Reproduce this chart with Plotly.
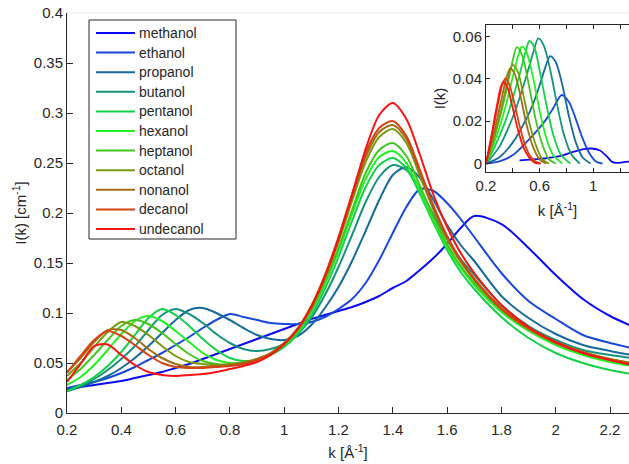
import plotly.graph_objects as go

# Scattering vector grid for the full I(k) curves [1/Angstrom]
k = [0.2, 0.25, 0.3, 0.35, 0.4, 0.45, 0.5, 0.55, 0.6, 0.65, 0.7, 0.75, 0.8, 0.85,
     0.9, 0.95, 1.0, 1.05, 1.1, 1.15, 1.2, 1.25, 1.3, 1.35, 1.4, 1.45, 1.5, 1.55,
     1.6, 1.65, 1.7, 1.8, 1.9, 2.0, 2.1, 2.2, 2.28]

names = ["methanol", "ethanol", "propanol", "butanol", "pentanol", "hexanol",
         "heptanol", "octanol", "nonanol", "decanol", "undecanol"]
colors = ["#0a0af0", "#1848d8", "#16699c", "#16927c", "#12d048", "#22f022",
          "#44c420", "#7a9a12", "#a46c12", "#d24412", "#f51414"]

# Full intensities I(k) [1/cm]
methanol = [.024, .026, .028, .030, .032, .035, .038, .041, .045, .049, .054, .059, .064, .069,
            .074, .079, .084, .089, .094, .098, .102, .106, .111, .117, .125, .132, .143, .155,
            .169, .185, .197, .189, .165, .138, .114, .097, .087]
ethanol = [.025, .028, .031, .035, .040, .046, .053, .060, .068, .076, .085, .093, .099, .096,
           .093, .090, .089, .089, .091, .096, .104, .114, .130, .153, .180, .206, .224, .222,
           .210, .194, .176, .140, .112, .094, .078, .070, .065]
propanol = [.022, .026, .031, .037, .045, .055, .067, .080, .093, .103, .105, .100, .093, .085,
            .078, .074, .073, .077, .088, .105, .126, .152, .182, .213, .238, .246, .235, .213,
            .188, .168, .152, .117, .095, .079, .068, .062, .058]
butanol = [.022, .027, .034, .043, .054, .067, .083, .098, .104, .099, .090, .079, .070, .064,
           .062, .064, .069, .079, .095, .118, .146, .178, .211, .236, .248, .243, .224, .198,
           .174, .154, .138, .108, .087, .073, .063, .058, .055]
pentanol = [.022, .028, .036, .047, .061, .078, .095, .104, .098, .087, .074, .063, .055, .052,
            .053, .058, .066, .079, .098, .124, .156, .192, .226, .248, .255, .245, .219, .190,
            .163, .141, .124, .096, .075, .060, .050, .043, .039]
hexanol = [.028, .036, .048, .063, .079, .092, .097, .092, .082, .071, .060, .053, .050, .050,
           .053, .059, .068, .082, .102, .129, .162, .199, .234, .256, .262, .250, .222, .192,
           .166, .145, .128, .101, .082, .068, .058, .051, .047]
heptanol = [.033, .044, .058, .073, .087, .093, .089, .080, .069, .059, .052, .049, .048, .049,
            .052, .058, .068, .082, .103, .131, .165, .203, .240, .263, .270, .257, .227, .196,
            .169, .147, .130, .103, .084, .070, .060, .053, .049]
octanol = [.037, .050, .066, .081, .091, .087, .078, .067, .057, .051, .049, .048, .049, .051,
           .054, .060, .070, .084, .106, .135, .171, .212, .251, .276, .284, .270, .237, .203,
           .174, .151, .133, .104, .085, .071, .061, .054, .050]
nonanol = [.041, .055, .071, .083, .083, .075, .064, .055, .049, .046, .046, .047, .048, .050,
           .054, .060, .070, .085, .107, .137, .174, .216, .256, .281, .288, .274, .240, .205,
           .176, .152, .134, .105, .085, .071, .061, .054, .050]
decanol = [.040, .057, .073, .082, .077, .068, .058, .050, .046, .045, .045, .046, .047, .049,
           .053, .059, .069, .084, .107, .138, .176, .219, .260, .285, .292, .277, .243, .207,
           .177, .153, .134, .104, .084, .070, .060, .053, .049]
undecanol = [.031, .049, .067, .0685, .058, .048, .041, .038, .037, .038, .039, .041, .044, .047,
             .051, .058, .069, .084, .106, .136, .174, .218, .264, .298, .310, .294, .258, .218,
             .186, .160, .140, .108, .086, .071, .060, .053, .048]

# Low-k (pre-peak) contributions shown in the inset
methanol_k_low = [0.45, 0.55, 0.65, 0.75, 0.85, 0.93, 0.99, 1.05, 1.1, 1.14, 1.18, 1.24, 1.3]
methanol_low = [0.0015, 0.002, 0.0025, 0.0035, 0.0055, 0.0068, 0.0071, 0.0062, 0.0035, 0.0008,
                0.0003, 0.0008, 0.001]
ethanol_k_low = [0.2, 0.3, 0.4, 0.5, 0.6, 0.65, 0.7, 0.765, 0.82, 0.87, 0.92, 0.97, 1.02, 1.07]
ethanol_low = [0, 0.001, 0.004, 0.010, 0.017, 0.021, 0.026, 0.0324, 0.029, 0.021, 0.012, 0.005,
               0.001, 0]
propanol_k_low = [0.2, 0.3, 0.4, 0.5, 0.55, 0.6, 0.64, 0.678, 0.72, 0.77, 0.82, 0.87, 0.92, 0.98]
propanol_low = [0, 0.003, 0.010, 0.021, 0.028, 0.037, 0.045, 0.0508, 0.048, 0.037, 0.022, 0.010,
                0.003, 0]
butanol_k_low = [0.2, 0.3, 0.4, 0.45, 0.5, 0.55, 0.59, 0.63, 0.68, 0.73, 0.78, 0.84, 0.9]
butanol_low = [0, 0.008, 0.022, 0.031, 0.041, 0.052, 0.0592, 0.056, 0.044, 0.028, 0.014, 0.004, 0]
pentanol_k_low = [0.2, 0.25, 0.3, 0.35, 0.4, 0.45, 0.5, 0.523, 0.56, 0.6, 0.65, 0.7, 0.76, 0.83]
pentanol_low = [0, 0.006, 0.013, 0.021, 0.031, 0.042, 0.054, 0.058, 0.055, 0.044, 0.028, 0.014,
                0.004, 0]
hexanol_k_low = [0.2, 0.25, 0.3, 0.35, 0.4, 0.44, 0.466, 0.5, 0.55, 0.6, 0.65, 0.7, 0.77]
hexanol_low = [0, 0.008, 0.017, 0.028, 0.041, 0.051, 0.0553, 0.053, 0.041, 0.025, 0.012, 0.004, 0]
heptanol_k_low = [0.2, 0.25, 0.3, 0.35, 0.4, 0.43, 0.47, 0.52, 0.57, 0.62, 0.67, 0.72]
heptanol_low = [0, 0.010, 0.021, 0.034, 0.049, 0.055, 0.051, 0.037, 0.021, 0.009, 0.002, 0]
octanol_k_low = [0.2, 0.25, 0.3, 0.35, 0.4, 0.44, 0.48, 0.52, 0.57, 0.62, 0.67]
octanol_low = [0, 0.010, 0.022, 0.036, 0.0466, 0.043, 0.032, 0.020, 0.009, 0.002, 0]
nonanol_k_low = [0.2, 0.25, 0.3, 0.35, 0.38, 0.41, 0.45, 0.5, 0.55, 0.6, 0.65]
nonanol_low = [0, 0.012, 0.026, 0.040, 0.045, 0.043, 0.034, 0.019, 0.008, 0.002, 0]
decanol_k_low = [0.2, 0.24, 0.28, 0.32, 0.345, 0.37, 0.41, 0.45, 0.49, 0.53, 0.57, 0.61]
decanol_low = [0, 0.012, 0.025, 0.037, 0.0403, 0.038, 0.029, 0.018, 0.009, 0.0035, 0.001, 0]
undecanol_k_low = [0.2, 0.24, 0.28, 0.31, 0.33, 0.36, 0.40, 0.44, 0.48, 0.52, 0.56, 0.6]
undecanol_low = [0, 0.013, 0.027, 0.036, 0.0387, 0.036, 0.026, 0.0155, 0.0075, 0.003, 0.0005, 0]

# Axis ticks
main_xticks = [0.2, 0.4, 0.6, 0.8, 1.0, 1.2, 1.4, 1.6, 1.8, 2.0, 2.2]
main_xlabels = ["0.2", "0.4", "0.6", "0.8", "1", "1.2", "1.4", "1.6", "1.8", "2", "2.2"]
main_yticks = [0, 0.05, 0.1, 0.15, 0.2, 0.25, 0.3, 0.35, 0.4]
main_ylabels = ["0", "0.05", "0.1", "0.15", "0.2", "0.25", "0.3", "0.35", "0.4"]
inset_xticks = [0.2, 0.4, 0.6, 0.8, 1.0, 1.2]
inset_xlabels = ["0.2", "", "0.6", "", "1", ""]
inset_yticks = [0, 0.02, 0.04, 0.06]
inset_ylabels = ["0", "0.02", "0.04", "0.06"]

full_curves = [methanol, ethanol, propanol, butanol, pentanol, hexanol, heptanol,
               octanol, nonanol, decanol, undecanol]
low_k = [methanol_k_low, ethanol_k_low, propanol_k_low, butanol_k_low, pentanol_k_low,
         hexanol_k_low, heptanol_k_low, octanol_k_low, nonanol_k_low, decanol_k_low,
         undecanol_k_low]
low_i = [methanol_low, ethanol_low, propanol_low, butanol_low, pentanol_low, hexanol_low,
         heptanol_low, octanol_low, nonanol_low, decanol_low, undecanol_low]

INK = "#262626"
FONT = "Liberation Sans, Arial, Helvetica, sans-serif"

# Page geometry of the main axes (pixels) used to place the boxed legend
W, H = 629, 464
ML, MR, MT, MB = 67, 0, 13, 51
PW, PH = W - ML - MR, H - MT - MB


def px_x(p):
    return (p - ML) / PW


def px_y(p):
    return (H - MB - p) / PH


fig = go.Figure()
for name, col, yv in zip(names, colors, full_curves):
    fig.add_trace(go.Scatter(
        x=k, y=yv, name=name, mode="lines", showlegend=False,
        line=dict(color=col, width=2, shape="spline", smoothing=0.8),
        xaxis="x", yaxis="y"))
for name, col, kv, yv in zip(names, colors, low_k, low_i):
    fig.add_trace(go.Scatter(
        x=kv, y=yv, name=name, mode="lines", showlegend=False,
        line=dict(color=col, width=1.8, shape="spline", smoothing=0.8),
        xaxis="x2", yaxis="y2"))

# Boxed legend: frame, colour samples and labels
shapes = [dict(type="line", xref="paper", yref="paper", x0=0, x1=1, y0=1, y1=1,
               line=dict(color="#ececec", width=1), layer="below"),
          dict(type="rect", xref="paper", yref="paper",
               x0=px_x(89), x1=px_x(236), y0=px_y(239), y1=px_y(20),
               line=dict(color=INK, width=1), fillcolor="white", layer="above")]
annotations = []
for i, (name, col) in enumerate(zip(names, colors)):
    yc = 33 + 19.6 * i
    shapes.append(dict(type="line", xref="paper", yref="paper",
                       x0=px_x(96), x1=px_x(135), y0=px_y(yc), y1=px_y(yc),
                       line=dict(color=col, width=2), layer="above"))
    annotations.append(dict(text=name, xref="paper", yref="paper",
                            x=px_x(137), y=px_y(yc), xanchor="left", yanchor="middle",
                            showarrow=False, font=dict(family=FONT, size=14, color=INK)))

axis_common = dict(showline=True, linecolor=INK, linewidth=1, ticks="inside",
                   tickcolor=INK, showgrid=False, zeroline=False,
                   tickfont=dict(family=FONT, size=15, color=INK))

fig.update_layout(
    width=W, height=H,
    margin=dict(l=ML, r=MR, t=MT, b=MB),
    paper_bgcolor="white", plot_bgcolor="white",
    font=dict(family=FONT, size=15, color=INK),
    showlegend=False,
    xaxis=dict(domain=[0, 1], range=[0.2, 2.27], tickvals=main_xticks,
               ticktext=main_xlabels, ticklen=6, anchor="y", ticklabelstandoff=3,
               title=dict(text="k [Å<sup>-1</sup>]", standoff=10,
                          font=dict(family=FONT, size=15, color=INK)),
               **axis_common),
    yaxis=dict(domain=[0, 1], range=[0, 0.4], tickvals=main_yticks,
               ticktext=main_ylabels, ticklen=6, anchor="x",
               title=dict(text="I(k) [cm<sup>-1</sup>]", standoff=3,
                          font=dict(family=FONT, size=15, color=INK)),
               **axis_common),
    xaxis2=dict(domain=[0.7456, 1], range=[0.2, 1.267], tickvals=inset_xticks,
                ticktext=inset_xlabels, ticklen=4, anchor="y2", mirror="ticks",
                title=dict(text="k [Å<sup>-1</sup>]", standoff=12,
                           font=dict(family=FONT, size=15, color=INK)),
                **axis_common),
    yaxis2=dict(domain=[0.6025, 0.97], range=[-0.004, 0.0655], tickvals=inset_yticks,
                ticktext=inset_ylabels, ticklen=4, anchor="x2",
                title=dict(text="I(k)", standoff=3,
                           font=dict(family=FONT, size=15, color=INK)),
                **axis_common),
    shapes=shapes,
    annotations=annotations,
)

fig.write_html("out.html")
